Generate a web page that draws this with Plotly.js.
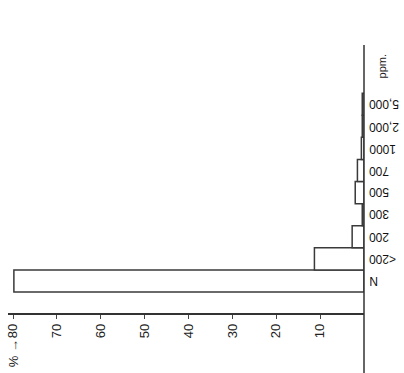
<!DOCTYPE html>
<html>
<head>
<meta charset="utf-8">
<script src="https://cdn.plot.ly/plotly-3.0.1.min.js"></script>
<style>html,body{margin:0;padding:0;background:#fff;}#chart{width:404px;height:373px;}</style>
</head>
<body>
<div id="chart"></div>
<script>
// Classes (ppm), bottom to top
var categories = ["N", "<200", "200", "300", "500", "700", "1000", "2,000", "5,000"];
// Percent of samples in each class
var percents = [79.8, 11.3, 2.7, 0.4, 2.0, 1.5, 0.6, 0.4, 0.4];
// Percent axis ticks
var tickValues = [10, 20, 30, 40, 50, 60, 70, 80];
var tickLabels = ["10", "20", "30", "40", "50", "60", "70", "80"];
var unitLabel = "ppm.";
var axisLabel = "% \u2192";

var trace = {
  type: "bar",
  orientation: "h",
  y: categories,
  x: percents,
  marker: {color: "#ffffff", line: {color: "#3a3a3a", width: 1.5}},
  hoverinfo: "none"
};

var catAnnotations = categories.map(function (c, i) {
  return {
    xref: "paper", yref: "y", x: 1, y: i,
    xanchor: "left", yanchor: "middle", xshift: 3,
    text: c, showarrow: false, textangle: 180,
    font: {size: 12, color: "#111"}
  };
});

var layout = {
  width: 404, height: 373,
  margin: {l: 8, r: 40, t: 45, b: 60},
  paper_bgcolor: "#ffffff", plot_bgcolor: "#ffffff",
  showlegend: false,
  bargap: 0,
  font: {family: "Liberation Sans, Arial, sans-serif", color: "#222"},
  xaxis: {
    range: [81.14, 0],
    tickmode: "array", tickvals: tickValues, ticktext: tickLabels,
    tickangle: -90,
    ticks: "outside", ticklen: 4, tickwidth: 1, tickcolor: "#444",
    tickfont: {size: 13, color: "#222"},
    showline: true, linecolor: "#333", linewidth: 1.5,
    showgrid: false, zeroline: false
  },
  yaxis: {
    type: "category",
    categoryorder: "array", categoryarray: categories,
    range: [-1.45, 10.68],
    side: "right",
    showticklabels: false,
    ticks: "", showline: false, showgrid: false, zeroline: false
  },
  shapes: [
    {type: "line", xref: "paper", yref: "paper", x0: 1, x1: 1, y0: -0.23, y1: 1,
     line: {color: "#333", width: 1.5}}
  ],
  annotations: catAnnotations.concat([
    {xref: "paper", yref: "paper", x: 1.0, y: 0.92, xanchor: "left", yanchor: "middle",
     xshift: 10, text: unitLabel, showarrow: false, textangle: -90,
     font: {size: 11, color: "#222"}},
    {xref: "paper", yref: "paper", x: 0.014, y: -0.15, xanchor: "center", yanchor: "middle",
     text: axisLabel, showarrow: false, textangle: -90,
     font: {size: 13, color: "#222"}}
  ])
};

Plotly.newPlot("chart", [trace], layout, {displayModeBar: false, staticPlot: true});
</script>
</body>
</html>
